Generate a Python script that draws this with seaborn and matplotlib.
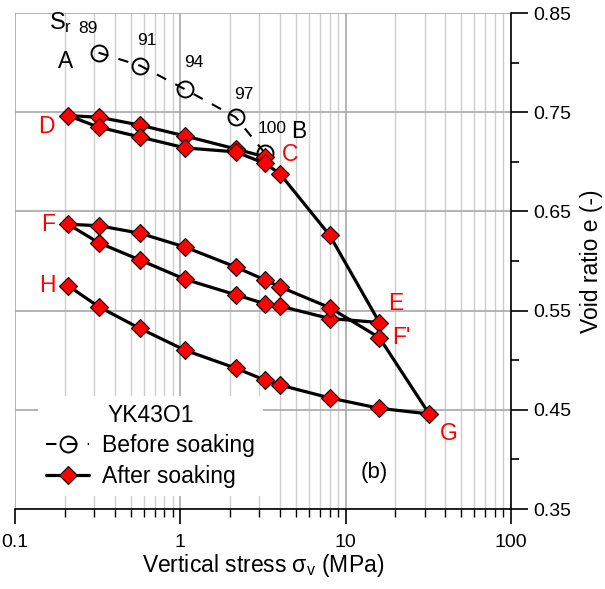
import numpy as np
import pandas as pd
import matplotlib
matplotlib.use("Agg")
import matplotlib.pyplot as plt
import seaborn as sns
from matplotlib.ticker import FixedLocator, FixedFormatter, NullFormatter

# ---------------- data ----------------
before_stress = [0.32, 0.57, 1.07, 2.16, 3.24]
before_e = [0.810, 0.797, 0.773, 0.745, 0.709]
before_sr = ["89", "91", "94", "97", "100"]

after_stress = [3.24, 2.16, 1.07, 0.57, 0.32, 0.21,
                0.32, 0.57, 1.07, 2.16, 3.24, 4.0, 8.0, 16.0,
                8.0, 4.0, 3.24, 2.16, 1.07, 0.57, 0.32, 0.21,
                0.32, 0.57, 1.07, 2.16, 3.24, 4.0, 8.0, 16.0, 32.0,
                16.0, 8.0, 4.0, 3.24, 2.16, 1.07, 0.57, 0.32, 0.21]
after_e = [0.705, 0.713, 0.726, 0.737, 0.745, 0.7465,
           0.735, 0.725, 0.714, 0.710, 0.6985, 0.688, 0.626, 0.538,
           0.542, 0.5546, 0.557, 0.566, 0.5815, 0.601, 0.6185, 0.637,
           0.6356, 0.628, 0.614, 0.594, 0.581, 0.574, 0.553, 0.5227, 0.4458,
           0.4515, 0.462, 0.475, 0.480, 0.492, 0.510, 0.532, 0.554, 0.575]

x_ticks = [0.1, 1, 10, 100]
x_tick_labels = ["0.1", "1", "10", "100"]
y_ticks = [0.35, 0.45, 0.55, 0.65, 0.75, 0.85]
y_tick_labels = ["0.35", "0.45", "0.55", "0.65", "0.75", "0.85"]

before_df = pd.DataFrame({"stress": before_stress, "e": before_e})
after_df = pd.DataFrame({"stress": after_stress, "e": after_e})

# ---------------- style ----------------
sns.set_style("white")
plt.rcParams['font.family'] = ['Liberation Sans', 'DejaVu Sans']
plt.rcParams['mathtext.fontset'] = 'custom'
plt.rcParams['mathtext.rm'] = 'Liberation Sans'
plt.rcParams['mathtext.it'] = 'Liberation Sans:italic'
plt.rcParams['text.color'] = 'black'
plt.rcParams['axes.labelcolor'] = 'black'
plt.rcParams['xtick.color'] = 'black'
plt.rcParams['ytick.color'] = 'black'

fig = plt.figure(figsize=(6.05, 5.89), dpi=100)
ax = fig.add_axes([15 / 605, 1 - 509 / 589, 496 / 605, 496 / 589])
ax.set_xscale('log')
ax.set_xlim(0.1, 100)
ax.set_ylim(0.35, 0.85)

# grid & ticks
ax.xaxis.set_major_locator(FixedLocator(x_ticks))
ax.xaxis.set_major_formatter(FixedFormatter(x_tick_labels))
minor_x = [m * 10.0 ** d for d in range(-1, 2) for m in range(2, 10)]
ax.xaxis.set_minor_locator(FixedLocator(minor_x))
ax.xaxis.set_minor_formatter(NullFormatter())
ax.yaxis.set_major_locator(FixedLocator(y_ticks))
ax.yaxis.set_major_formatter(FixedFormatter(y_tick_labels))
ax.yaxis.set_minor_locator(FixedLocator([0.40, 0.50, 0.60, 0.70, 0.80]))
ax.yaxis.set_minor_formatter(NullFormatter())

ax.grid(True, which='minor', axis='x', color='#cccccc', lw=1.0, zorder=0)
ax.grid(True, which='major', axis='x', color='#a8a8a8', lw=1.2, zorder=0)
ax.grid(True, which='major', axis='y', color='#a8a8a8', lw=1.2, zorder=0)
ax.set_axisbelow(True)

for s in ['top', 'left']:
    ax.spines[s].set_visible(False)
for s in ['right', 'bottom']:
    ax.spines[s].set_color('black')
    ax.spines[s].set_linewidth(1.2)

ax.yaxis.tick_right()
ax.yaxis.set_label_position('right')
ax.tick_params(axis='y', which='major', direction='out', length=12, width=1.2,
               labelsize=14, colors='black', pad=4, left=False, right=True)
ax.tick_params(axis='y', which='minor', direction='out', length=6, width=1.2,
               left=False, right=True)
ax.tick_params(axis='x', which='major', direction='out', length=11, width=1.2,
               labelsize=14, colors='black', pad=7, top=False, bottom=True)
ax.tick_params(axis='x', which='minor', direction='out', length=6, width=1.0,
               top=False, bottom=True)

# ---------------- lines ----------------
sns.lineplot(data=before_df, x="stress", y="e", sort=False, estimator=None, ax=ax,
             color='black', lw=1.5, linestyle=(0, (5, 5)), marker='o', markersize=11.5,
             markerfacecolor='none', markeredgecolor='black', markeredgewidth=1.4,
             label='Before soaking', zorder=3)
sns.lineplot(data=after_df, x="stress", y="e", sort=False, estimator=None, ax=ax,
             color='black', lw=2.3, marker='D', markersize=9,
             markerfacecolor='#ff0000', markeredgecolor='black', markeredgewidth=0.8,
             label='After soaking', zorder=4)

ax.set_xlabel("Vertical stress σ$_\\mathrm{v}$ (MPa)", fontsize=16.5, labelpad=1)
ax.set_ylabel("Void ratio e (-)", fontsize=16.5, labelpad=6)

# ---------------- annotations ----------------
ax.text(0.190, 0.840, "S$_\\mathrm{r}$", fontsize=17, ha='center', va='center')
sr_pos = [(0.277, 0.834), (0.631, 0.822), (1.2, 0.800), (2.41, 0.768), (3.61, 0.734)]
for (xx, yy), t in zip(sr_pos, before_sr):
    ax.text(xx, yy, t, fontsize=12.5, ha='center', va='center')

black_lab = {"A": (0.201, 0.801), "B": (5.19, 0.731)}
for k, (xx, yy) in black_lab.items():
    ax.text(xx, yy, k, fontsize=16.5, ha='center', va='center', color='black')
red_lab = {"C": (4.64, 0.707), "D": (0.154, 0.736), "E": (20.1, 0.557),
           "F": (0.158, 0.637), "F'": (21.8, 0.523), "G": (42.1, 0.426),
           "H": (0.156, 0.575)}
for k, (xx, yy) in red_lab.items():
    ax.text(xx, yy, k, fontsize=16.5, ha='center', va='center', color='#ff0000')

ax.text(14.8, 0.387, "(b)", fontsize=16, ha='center', va='center')

leg = ax.legend(title="YK43O1", loc='upper left', bbox_to_anchor=(0.046, 0.228),
                frameon=True, fancybox=False, framealpha=1, facecolor='white',
                edgecolor='none', fontsize=16.5, title_fontsize=16.5,
                handlelength=1.9, handletextpad=0.55, labelspacing=0.32,
                borderpad=0.35, borderaxespad=0)
leg.set_zorder(5)

fig.savefig("out.png", dpi=100)
